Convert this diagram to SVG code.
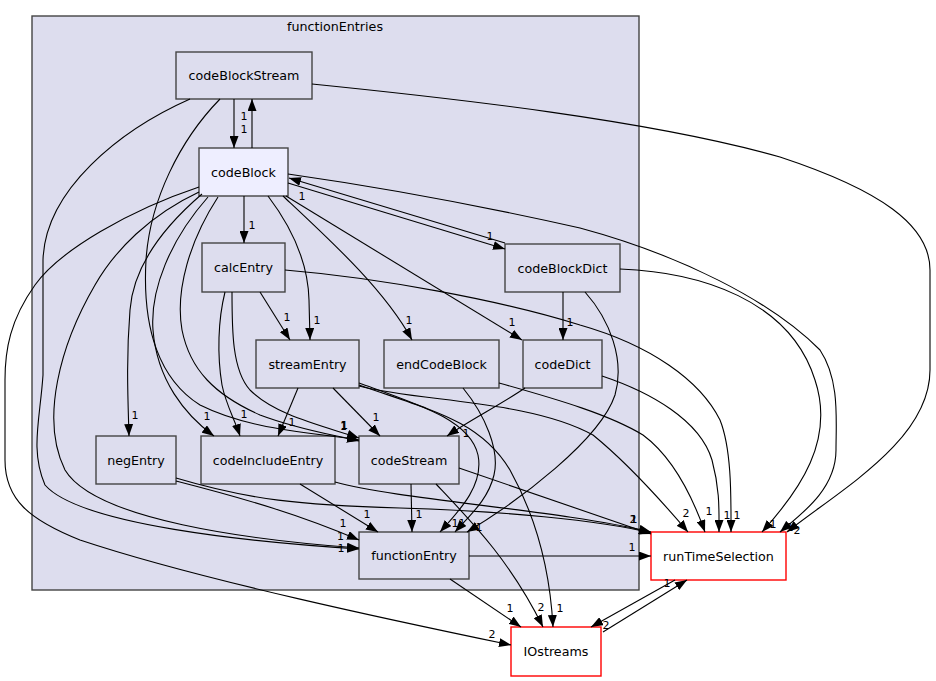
<svg xmlns="http://www.w3.org/2000/svg" width="936" height="681" viewBox="0 0 936 681">
<style>
.cl{fill:#ddddee;stroke:#444444;stroke-width:1.4}
.n rect{fill:#ddddee;stroke:#444444;stroke-width:1.4}
.n.hl rect{fill:#eeeeff}
.n.ext rect{fill:#ffffff;stroke:#ff0000}
text{font-family:"DejaVu Sans","Liberation Sans",sans-serif;fill:#000000}
.n text,.ct{font-size:12.7px;text-anchor:middle}
.e path{fill:none;stroke:#000;stroke-width:1.1;marker-end:url(#a)}
.lb text{font-size:11px;text-anchor:middle;fill:#000000}
</style>
<defs>
<marker id="a" markerWidth="12" markerHeight="9" refX="12" refY="4.5" orient="auto" markerUnits="userSpaceOnUse"><path d="M0,0 L12,4.5 L0,9 z" fill="#000"/></marker>
</defs>
<rect width="936" height="681" fill="#fff"/>
<g id="cluster_functionEntries">
<rect class="cl" x="32" y="16" width="607" height="574"/>
<text class="ct" x="335" y="31">functionEntries</text>
</g>
<g id="codeBlockStream" class="n"><rect x="176" y="52" width="136" height="47"/><text x="244" y="80">codeBlockStream</text></g>
<g id="codeBlock" class="n hl"><rect x="199" y="148" width="89" height="48"/><text x="243.5" y="176.5">codeBlock</text></g>
<g id="calcEntry" class="n"><rect x="202" y="243" width="83" height="49"/><text x="243.5" y="272">calcEntry</text></g>
<g id="codeBlockDict" class="n"><rect x="505" y="244" width="115" height="48"/><text x="562.5" y="272.5">codeBlockDict</text></g>
<g id="streamEntry" class="n"><rect x="256" y="340" width="103" height="48"/><text x="307.5" y="368.5">streamEntry</text></g>
<g id="endCodeBlock" class="n"><rect x="384" y="340" width="115" height="48"/><text x="441.5" y="368.5">endCodeBlock</text></g>
<g id="codeDict" class="n"><rect x="523" y="340" width="79" height="48"/><text x="562.5" y="368.5">codeDict</text></g>
<g id="negEntry" class="n"><rect x="96" y="436" width="80" height="48"/><text x="136" y="464.5">negEntry</text></g>
<g id="codeIncludeEntry" class="n"><rect x="201" y="436" width="134" height="48"/><text x="268" y="464.5">codeIncludeEntry</text></g>
<g id="codeStream" class="n"><rect x="359" y="436" width="100" height="48"/><text x="409" y="464.5">codeStream</text></g>
<g id="functionEntry" class="n"><rect x="359" y="532" width="110" height="47"/><text x="414" y="560">functionEntry</text></g>
<g id="runTimeSelection" class="n ext"><rect x="651" y="532" width="135" height="48"/><text x="718.5" y="560.5">runTimeSelection</text></g>
<g id="IOstreams" class="n ext"><rect x="511" y="627" width="90" height="49"/><text x="556" y="656">IOstreams</text></g>
<g id="connectors" class="e">
<path d="M234,99 L234,148"/>
<path d="M252,148 L252,99"/>
<path d="M312,84 C450,98 650,120 780,157 C880,190 930,225 930,270 L930,370 C930,440 840,490 787,532"/>
<path d="M190,99 C120,130 45,190 43,260 L43,375 C40,420 30,450 45,485 C80,525 250,542 359,549"/>
<path d="M220,99 C180,140 150,200 146,260 C142,330 160,380 200,405 C250,430 310,432 359,440"/>
<path d="M244,196 L244,243"/>
<path d="M288,183 L505,249"/>
<path d="M505,243 L289,178"/>
<path d="M268,196 C290,225 308,260 309,300 L310,340"/>
<path d="M283,196 C330,240 385,290 412,340"/>
<path d="M286,196 L522,340"/>
<path d="M288,174 C400,190 500,210 580,228 C680,255 770,300 820,350 C840,380 836,420 836,450 C836,490 800,515 780,532"/>
<path d="M202,194 C160,230 133,270 130,310 C126,360 128,400 129,436"/>
<path d="M208,197 C170,240 150,290 153,330 C157,380 185,415 214,436"/>
<path d="M218,197 C190,240 175,290 182,330 C190,370 215,395 260,415 C300,430 330,434 359,441"/>
<path d="M199,192 C150,215 115,250 95,285 C60,345 40,420 65,470 C95,520 250,540 359,548"/>
<path d="M199,187 C130,210 60,250 35,285 C10,320 5,350 5,380 L5,460 C5,500 30,520 80,540 C200,580 400,622 511,645"/>
<path d="M260,292 L290,340"/>
<path d="M225,292 C218,320 217,355 222,385 C226,405 235,420 240,436"/>
<path d="M232,292 C232,330 232,370 250,390 C275,415 320,425 359,438"/>
<path d="M285,270 C380,278 500,300 580,325 C650,345 700,380 720,420 C732,450 731,500 731,532"/>
<path d="M563,292 L563,340"/>
<path d="M620,269 C700,272 790,300 815,380 C835,440 800,490 762,532"/>
<path d="M585,292 C610,320 625,360 615,395 C600,440 520,500 467,532"/>
<path d="M298,388 L278,436"/>
<path d="M333,388 L380,436"/>
<path d="M359,383 C420,405 470,420 478,455 C484,485 460,510 440,532"/>
<path d="M359,385 C430,410 480,420 510,470 C535,515 550,570 553,627"/>
<path d="M359,386 C420,402 530,400 593,435 C630,465 665,505 688,532"/>
<path d="M463,388 C485,415 500,450 494,475 C488,500 470,515 455,532"/>
<path d="M499,383 C560,400 610,415 643,435 C670,455 690,490 705,532"/>
<path d="M525,388 C500,405 470,420 447,436"/>
<path d="M602,376 C650,392 700,420 712,460 C720,490 719,510 719,532"/>
<path d="M176,478 C250,500 300,505 400,508 C500,511 600,520 651,533"/>
<path d="M176,481 C250,500 300,515 359,540"/>
<path d="M335,482 C400,500 560,510 651,532"/>
<path d="M300,484 L378,532"/>
<path d="M411,484 L412,532"/>
<path d="M459,468 L651,534"/>
<path d="M436,484 C470,520 510,560 543,627"/>
<path d="M469,556 L651,556"/>
<path d="M450,579 L521,627"/>
<path d="M675,580 L591,627"/>
<path d="M603,632 L687,580"/>
</g>
<g id="labels" class="lb">
<text x="244" y="133">1</text>
<text x="244" y="120">1</text>
<text x="797" y="534">2</text>
<text x="341" y="552">1</text>
<text x="344" y="429">1</text>
<text x="252" y="229">1</text>
<text x="490" y="240">1</text>
<text x="302" y="200">1</text>
<text x="317" y="324">1</text>
<text x="409" y="324">1</text>
<text x="512" y="326">1</text>
<text x="790" y="531">1</text>
<text x="135" y="419">1</text>
<text x="207" y="420">1</text>
<text x="344.5" y="429">1</text>
<text x="340.5" y="540">1</text>
<text x="492" y="638">2</text>
<text x="287" y="321">1</text>
<text x="244" y="418">1</text>
<text x="343.5" y="429.5">1</text>
<text x="737" y="519">1</text>
<text x="570" y="326">1</text>
<text x="773" y="528">1</text>
<text x="479" y="531">1</text>
<text x="292" y="426">1</text>
<text x="376" y="421">1</text>
<text x="455" y="527">1</text>
<text x="560" y="612">1</text>
<text x="686" y="517">2</text>
<text x="462" y="527">1</text>
<text x="709" y="515">1</text>
<text x="466" y="437">1</text>
<text x="727" y="519">1</text>
<text x="633" y="523">2</text>
<text x="343" y="527">1</text>
<text x="634" y="523">1</text>
<text x="367" y="518">1</text>
<text x="419" y="518">1</text>
<text x="633.5" y="523">1</text>
<text x="541" y="611">2</text>
<text x="632" y="551">1</text>
<text x="510" y="612">1</text>
<text x="606" y="629">2</text>
<text x="667" y="587">1</text>
</g>
</svg>
